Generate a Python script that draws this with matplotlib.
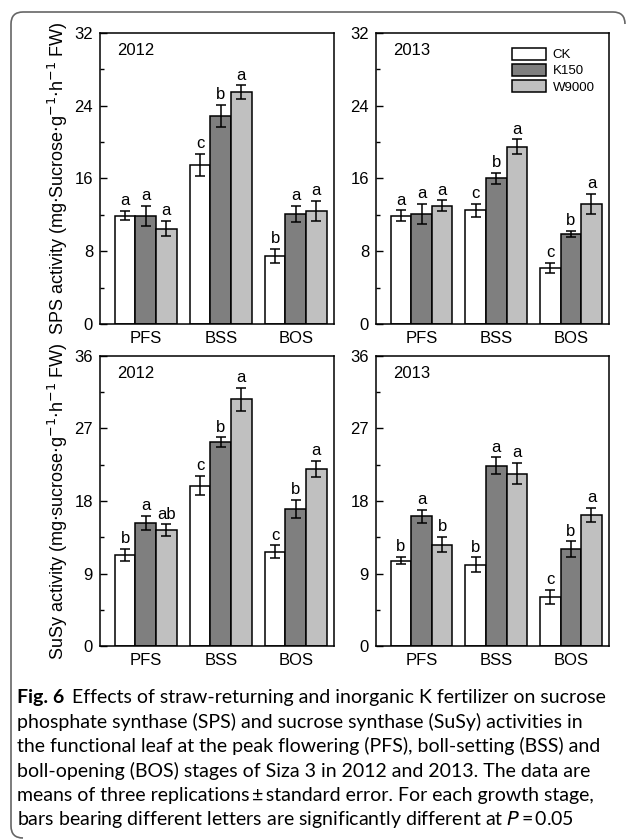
import matplotlib
matplotlib.use("Agg")
import matplotlib.pyplot as plt
import numpy as np
from matplotlib.path import Path
from matplotlib.patches import PathPatch

plt.rcParams['font.family'] = ['Liberation Sans', 'DejaVu Sans']

stages = ["PFS", "BSS", "BOS"]
treatments = ["CK", "K150", "W9000"]
colors = ["#ffffff", "#7f7f7f", "#c0c0c0"]

# SPS 2012
sps12 = [[11.9, 17.5, 7.5], [11.9, 22.9, 12.1], [10.5, 25.5, 12.4]]
sps12_err = [[0.5, 1.2, 0.75], [1.1, 1.2, 0.9], [0.85, 0.75, 1.1]]
sps12_let = [["a", "c", "b"], ["a", "b", "a"], ["a", "a", "a"]]
# SPS 2013
sps13 = [[11.9, 12.5, 6.2], [12.1, 16.0, 9.9], [13.0, 19.5, 13.2]]
sps13_err = [[0.6, 0.7, 0.55], [1.1, 0.6, 0.35], [0.6, 0.8, 1.15]]
sps13_let = [["a", "c", "c"], ["a", "b", "b"], ["a", "a", "a"]]
# SuSy 2012
susy12 = [[11.3, 19.9, 11.7], [15.3, 25.3, 17.0], [14.4, 30.6, 22.0]]
susy12_err = [[0.8, 1.2, 0.8], [0.87, 0.6, 1.15], [0.7, 1.45, 1.0]]
susy12_let = [["b", "c", "c"], ["a", "b", "b"], ["ab", "a", "a"]]
# SuSy 2013
susy13 = [[10.6, 10.1, 6.1], [16.1, 22.4, 12.0], [12.6, 21.4, 16.3]]
susy13_err = [[0.45, 0.9, 0.87], [0.8, 1.0, 1.0], [0.9, 1.3, 0.85]]
susy13_let = [["b", "b", "c"], ["a", "a", "b"], ["b", "a", "a"]]

sps_label = "SPS activity (mg$\\cdot$Sucrose$\\cdot$g$^{-1}$$\\cdot$h$^{-1}$ FW)"
susy_label = "SuSy activity (mg$\\cdot$sucrose$\\cdot$g$^{-1}$$\\cdot$h$^{-1}$ FW)"

W, H = 630, 839
fig = plt.figure(figsize=(W / 100, H / 100), dpi=100)

def px_axes(x0, y0, x1, y1):
    return fig.add_axes([x0 / W, 1 - y1 / H, (x1 - x0) / W, (y1 - y0) / H])

panels = [
    (px_axes(100, 33, 334, 324), sps12, sps12_err, sps12_let, "2012", 32, 8, sps_label, False),
    (px_axes(376, 33, 609, 324), sps13, sps13_err, sps13_let, "2013", 32, 8, None, True),
    (px_axes(100, 356, 334, 646), susy12, susy12_err, susy12_let, "2012", 36, 9, susy_label, False),
    (px_axes(376, 356, 609, 646), susy13, susy13_err, susy13_let, "2013", 36, 9, None, False),
]

x = np.arange(len(stages))
bw = 0.275
for ax, vals, errs, lets, year, ymax, step, ylab, legend in panels:
    for i, t in enumerate(treatments):
        pos = x + (i - 1) * bw
        ax.bar(pos, vals[i], width=bw, color=colors[i], edgecolor="black",
               linewidth=1.1, label=t, zorder=2)
        ax.errorbar(pos, vals[i], yerr=errs[i], fmt="none", ecolor="black",
                    elinewidth=1.1, capsize=3.5, capthick=1.1, zorder=3)
        for p, v, e, l in zip(pos, vals[i], errs[i], lets[i]):
            ax.annotate(l, (p, v + e), xytext=(0, 2), textcoords="offset points",
                        ha="center", va="bottom", fontsize=12)
    ax.set_xlim(-0.61, 2.51)
    ax.set_ylim(0, ymax)
    ax.set_yticks(np.arange(0, ymax + 1, step))
    ax.set_yticks(np.arange(step / 2, ymax, step), minor=True)
    ax.set_xticks(x)
    ax.set_xticklabels(stages)
    ax.tick_params(axis="y", which="both", direction="in", labelsize=12, width=1, pad=5)
    ax.tick_params(axis="y", which="major", length=5)
    ax.tick_params(axis="y", which="minor", length=3)
    ax.tick_params(axis="x", length=0, labelsize=12, pad=5)
    for s in ax.spines.values():
        s.set_linewidth(1.1)
    ax.text(0.073, 0.965, year, transform=ax.transAxes, ha="left", va="top", fontsize=12)
    if ylab:
        ax.set_ylabel(ylab, fontsize=13, labelpad=3)
    if legend:
        ax.legend(loc="upper left", bbox_to_anchor=(0.585, 0.95), frameon=False,
                  fontsize=9.5, handlelength=2.55, handleheight=1.05,
                  labelspacing=0.2, handletextpad=0.5, borderpad=0, borderaxespad=0)

# caption
cap_lines = [
    None,
    "phosphate synthase (SPS) and sucrose synthase (SuSy) activities in",
    "the functional leaf at the peak flowering (PFS), boll-setting (BSS) and",
    "boll-opening (BOS) stages of Siza 3 in 2012 and 2013. The data are",
    "means of three replications\u2009\u00b1\u2009standard error. For each growth stage,",
    "bars bearing different letters are significantly different at $P$\u2009=\u20090.05",
]
cap_y = [697, 721.5, 746, 770.5, 795, 819.5]
cfont = ['Lato', 'DejaVu Sans']
cfs = 14
t0 = fig.text(17 / W, 1 - cap_y[0] / H, "Fig. 6", fontsize=cfs, fontweight="bold",
              family=cfont, va="center", ha="left")
fig.canvas.draw()
bb = t0.get_window_extent()
fig.text((bb.x1 + 8) / W, 1 - cap_y[0] / H,
         "Effects of straw-returning and inorganic K fertilizer on sucrose",
         fontsize=cfs, family=cfont, va="center", ha="left")
for yy, line in zip(cap_y[1:], cap_lines[1:]):
    fig.text(17 / W, 1 - yy / H, line, fontsize=cfs, family=cfont, va="center", ha="left")

# frame
verts = [(625, 24), (625, 12), (613, 12), (23, 12), (11, 12), (11, 24),
         (11, 826), (11, 838), (23, 838)]
codes = [Path.MOVETO, Path.CURVE3, Path.CURVE3, Path.LINETO, Path.CURVE3, Path.CURVE3,
         Path.LINETO, Path.CURVE3, Path.CURVE3]
verts = [(vx / W, 1 - vy / H) for vx, vy in verts]
fig.patches.append(PathPatch(Path(verts, codes), transform=fig.transFigure,
                             fill=False, edgecolor="#666666", linewidth=1.2))

fig.savefig("out.png", dpi=100)
